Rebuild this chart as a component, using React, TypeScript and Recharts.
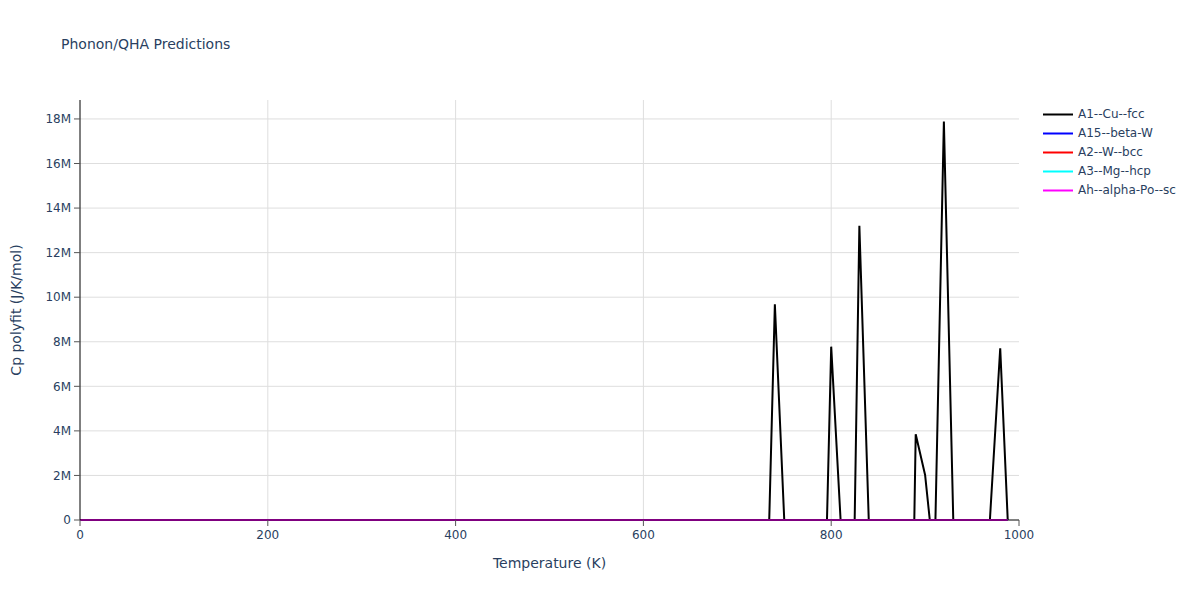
import React from 'react'
import { LineChart, Line, XAxis, YAxis, CartesianGrid } from 'recharts'

// temperatures (K) where the Cu curve changes slope, incl. zero crossings
const temps = [0, 734, 740, 750, 795.5, 800, 810, 825, 830, 840, 888.5, 890, 900, 905, 911, 920, 930, 969, 980, 988]
const cuFcc = [0, 0, 9.68e6, 0, 0, 7.78e6, 0, 0, 13.2e6, 0, 0, 3.85e6, 2.02e6, 0, 0, 17.88e6, 0, 0, 7.71e6, 0]
const betaW = [0, 0, 0, 0, 0, 0, 0, 0, 0, 0, 0, 0, 0, 0, 0, 0, 0, 0, 0, 0]
const wBcc = [0, 0, 0, 0, 0, 0, 0, 0, 0, 0, 0, 0, 0, 0, 0, 0, 0, 0, 0, 0]
const mgHcp = [0, 0, 0, 0, 0, 0, 0, 0, 0, 0, 0, 0, 0, 0, 0, 0, 0, 0, 0, 0]
const alphaPo = [0, 0, 0, 0, 0, 0, 0, 0, 0, 0, 0, 0, 0, 0, 0, 0, 0, 0, 0, 0]

const xTicks = [0, 200, 400, 600, 800, 1000]
const xGrid = [200, 400, 600, 800]
const yTicks = [0, 2e6, 4e6, 6e6, 8e6, 10e6, 12e6, 14e6, 16e6, 18e6]
const yGrid = [2e6, 4e6, 6e6, 8e6, 10e6, 12e6, 14e6, 16e6, 18e6]
const xMinor = Array.from({ length: 21 }, (_, i) => i * 50)
const yMinor = Array.from({ length: 48 }, (_, i) => i * 0.4e6)

const series = [
  { key: 'cu', name: 'A1--Cu--fcc', values: cuFcc, color: '#000000' },
  { key: 'w15', name: 'A15--beta-W', values: betaW, color: '#0000ff' },
  { key: 'w2', name: 'A2--W--bcc', values: wBcc, color: '#ff0000' },
  { key: 'mg', name: 'A3--Mg--hcp', values: mgHcp, color: '#00ffff' },
  { key: 'po', name: 'Ah--alpha-Po--sc', values: alphaPo, color: '#ff00ff' },
]

const rows = temps.map((t, i) => {
  const r: Record<string, number> = { T: t }
  series.forEach(s => { r[s.key] = s.values[i] })
  return r
})

const FONT = '"DejaVu Sans", Verdana, sans-serif'
const TXT = '#2a3f5f'

const fmtY = (v: number) => (v === 0 ? '0' : `${Math.round(v / 1e6)}M`)

function LegendBox() {
  return (
    <div style={{ position: 'absolute', left: 1043, top: 104.5, fontFamily: FONT, fontSize: 12, color: TXT }}>
      {series.map(s => (
        <div key={s.key} style={{ display: 'flex', alignItems: 'center', height: 19 }}>
          <svg width={35} height={19} style={{ display: 'block' }}>
            <line x1={0} x2={30} y1={9.5} y2={9.5} stroke={s.color} strokeWidth={2} />
          </svg>
          <span style={{ whiteSpace: 'nowrap' }}>{s.name}</span>
        </div>
      ))}
    </div>
  )
}

export default function App() {
  return (
    <div style={{ position: 'absolute', left: 0, top: 0, width: 1200, height: 600, background: '#fff' }}>
      <div style={{ position: 'absolute', left: 61, top: 37, fontFamily: FONT, fontSize: 14, lineHeight: '14px', color: TXT, whiteSpace: 'nowrap' }}>
        Phonon/QHA Predictions
      </div>
      <LineChart width={1200} height={600} data={rows} margin={{ top: 100, right: 181, bottom: 0, left: 0 }}>
        <CartesianGrid stroke="#dedede" strokeWidth={1} verticalValues={xGrid} horizontalValues={yGrid} />
        <XAxis
          dataKey="T"
          type="number"
          domain={[0, 1000]}
          ticks={xTicks}
          interval={0}
          height={80}
          tickSize={6}
          tickMargin={4}
          axisLine={{ stroke: '#000', strokeWidth: 1 }}
          tickLine={{ stroke: '#555' }}
          tick={{ fill: TXT, fontSize: 12, fontFamily: FONT }}
          label={{
            content: () => (
              <text x={549.5} y={568} textAnchor="middle" fill={TXT} fontSize={14} fontFamily={FONT}>
                Temperature (K)
              </text>
            ),
          }}
        />
        <XAxis
          xAxisId="minor"
          dataKey="T"
          type="number"
          domain={[0, 1000]}
          ticks={xMinor}
          interval={0}
          height={0}
          tickSize={3}
          axisLine={false}
          tickFormatter={() => ''}
          tickLine={{ stroke: '#555' }}
        />
        <YAxis
          type="number"
          domain={[0, 18.85e6]}
          ticks={yTicks}
          interval={0}
          width={80}
          tickSize={6}
          tickMargin={3}
          tickFormatter={fmtY}
          axisLine={{ stroke: '#000', strokeWidth: 1 }}
          tickLine={{ stroke: '#555' }}
          tick={{ fill: TXT, fontSize: 12, fontFamily: FONT }}
          label={{
            content: () => (
              <text
                x={21}
                y={310}
                textAnchor="middle"
                fill={TXT}
                fontSize={14}
                fontFamily={FONT}
                transform="rotate(-90 21 310)"
              >
                Cp polyfit (J/K/mol)
              </text>
            ),
          }}
        />
        <YAxis
          yAxisId="minor"
          type="number"
          domain={[0, 18.85e6]}
          ticks={yMinor}
          interval={0}
          width={0}
          tickSize={3}
          axisLine={false}
          tickFormatter={() => ''}
          tickLine={{ stroke: '#000' }}
        />
        {series.map(s => (
          <Line
            key={s.key}
            dataKey={s.key}
            name={s.name}
            type="linear"
            stroke={s.color}
            strokeWidth={2}
            dot={false}
            activeDot={false}
            isAnimationActive={false}
          />
        ))}
      </LineChart>
      <LegendBox />
    </div>
  )
}
